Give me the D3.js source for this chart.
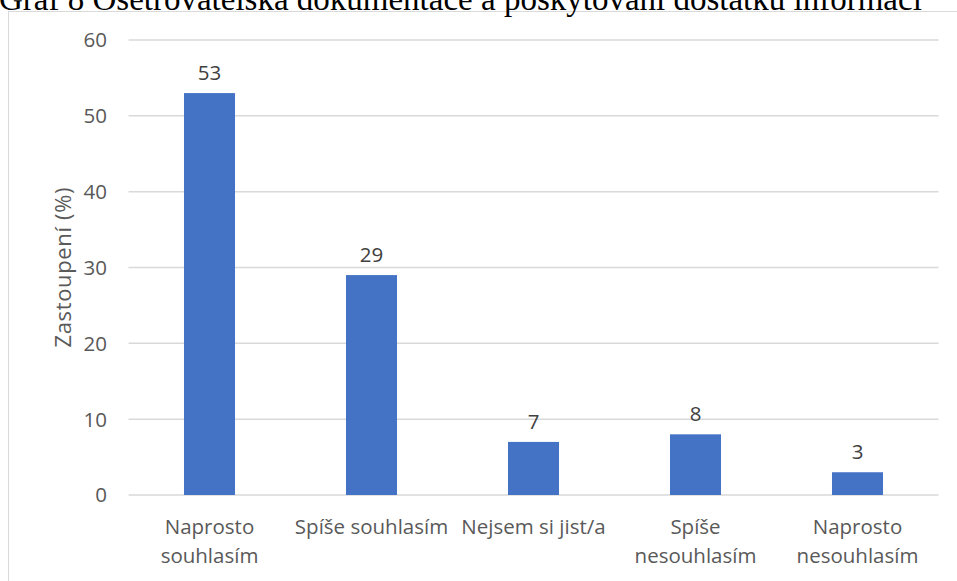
<!DOCTYPE html>
<html>
<head>
<meta charset="utf-8">
<script src="https://cdn.jsdelivr.net/npm/d3@7"></script>
<style>
  body { margin: 0; background: #fff; }
  svg { display: block; }
</style>
</head>
<body>
<div id="chart"></div>
<script>
// data
var categories = [["Naprosto", "souhlasím"], ["Spíše souhlasím"], ["Nejsem si jist/a"], ["Spíše", "nesouhlasím"], ["Naprosto", "nesouhlasím"]];
var values = [53, 29, 7, 8, 3];
var yTicks = [0, 10, 20, 30, 40, 50, 60];
var title = "Graf 8 Ošetřovatelská dokumentace a poskytování dostatku informací";
var yTitle = "Zastoupení (%)";

var W = 957, H = 581;
var plot = {left: 128.5, right: 938.5, top: 40, bottom: 495};
var font = "'Open Sans', sans-serif";

var svg = d3.select("#chart").append("svg")
  .attr("width", W)
  .attr("height", H);

// chart frame (right / bottom edges fall outside the crop)
svg.append("rect")
  .attr("x", 8.5).attr("y", 11.5)
  .attr("width", 1000).attr("height", 1000)
  .attr("fill", "none")
  .attr("stroke", "#d9d9d9")
  .attr("stroke-width", 1);

// caption above the chart, its top is cut off in the source as well
svg.append("text")
  .attr("x", -1)
  .attr("y", 10)
  .style("font-family", "'Liberation Serif', 'Times New Roman', serif")
  .style("font-size", "33px")
  .attr("fill", "#000")
  .text(title);

var x = d3.scaleBand()
  .domain(d3.range(categories.length))
  .range([plot.left, plot.right])
  .padding(0);

var y = d3.scaleLinear()
  .domain([0, 60])
  .range([plot.bottom, plot.top]);

var barW = x.bandwidth() * 0.315;

// gridlines
svg.append("g")
  .selectAll("line")
  .data(yTicks)
  .join("line")
    .attr("x1", plot.left)
    .attr("x2", plot.right)
    .attr("y1", function(d) { return y(d); })
    .attr("y2", function(d) { return y(d); })
    .attr("stroke", "#d9d9d9")
    .attr("stroke-width", 1.5);

// y tick labels
svg.append("g")
  .selectAll("text")
  .data(yTicks)
  .join("text")
    .attr("x", 107)
    .attr("y", function(d) { return y(d); })
    .attr("dy", "0.36em")
    .attr("text-anchor", "end")
    .style("font-family", font)
    .style("font-size", "20.5px")
    .attr("fill", "#595959")
    .text(function(d) { return d; });

// bars
svg.append("g")
  .selectAll("rect")
  .data(values)
  .join("rect")
    .attr("x", function(d, i) { return x(i) + x.bandwidth() / 2 - barW / 2; })
    .attr("y", function(d) { return y(d); })
    .attr("width", barW)
    .attr("height", function(d) { return y(0) - y(d); })
    .attr("fill", "#4472c4");

// value labels
svg.append("g")
  .selectAll("text")
  .data(values)
  .join("text")
    .attr("x", function(d, i) { return x(i) + x.bandwidth() / 2; })
    .attr("y", function(d) { return y(d) - 13; })
    .attr("text-anchor", "middle")
    .style("font-family", font)
    .style("font-size", "20.5px")
    .attr("fill", "#404040")
    .text(function(d) { return d; });

// category labels
var cat = svg.append("g")
  .selectAll("text")
  .data(categories)
  .join("text")
    .attr("text-anchor", "middle")
    .style("font-family", font)
    .style("font-size", "20.5px")
    .attr("fill", "#595959");

cat.selectAll("tspan")
  .data(function(d, i) { return d.map(function(s) { return {s: s, i: i}; }); })
  .join("tspan")
    .attr("x", function(d) { return x(d.i) + x.bandwidth() / 2; })
    .attr("y", function(d, j) { return 534 + j * 29; })
    .text(function(d) { return d.s; });

// y axis title
svg.append("text")
  .attr("transform", "translate(71," + ((plot.top + plot.bottom) / 2) + ") rotate(-90)")
  .attr("text-anchor", "middle")
  .attr("textLength", 160)
  .attr("lengthAdjust", "spacing")
  .style("font-family", font)
  .style("font-size", "22px")
  .attr("fill", "#595959")
  .text(yTitle);
</script>
</body>
</html>
